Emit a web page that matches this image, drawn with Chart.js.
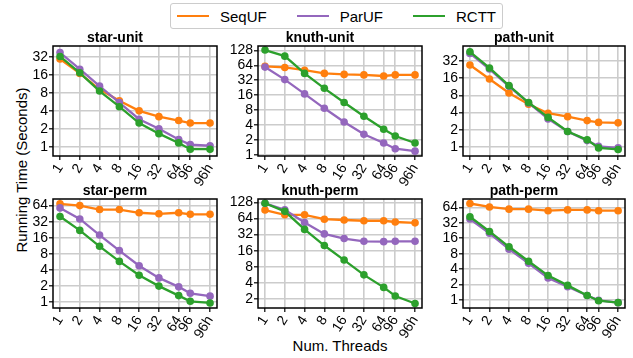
<!DOCTYPE html>
<html>
<head>
  <title>Running Time vs Threads</title>
  <script src="https://cdn.jsdelivr.net/npm/chart.js"></script>
  <style>
    body {
      margin: 0;
      background: #fff;
      font-family: "Liberation Sans", Arial, sans-serif;
      color: #000;
    }
    #wrap {
      position: relative;
      width: 633px;
      height: 358px;
      overflow: hidden;
    }
    canvas { position: absolute; }
    .legend {
      position: absolute;
      left: 170px;
      top: 3px;
      height: 24px;
      border: 1px solid #cccccc;
      border-radius: 3px;
      display: flex;
      align-items: center;
      padding: 0 6px;
      font-size: 15px;
      background: #fff;
    }
    .legend .item { display: flex; align-items: center; margin-right: 30px; }
    .legend .item:last-child { margin-right: 0; }
    .legend .swatch { width: 32px; height: 2px; margin-right: 11px; }
    #ylabel {
      position: absolute;
      left: 21px;
      top: 170px;
      transform: translate(-50%, -50%) rotate(-90deg);
      white-space: nowrap;
      font-size: 15px;
    }
    #xlabel {
      position: absolute;
      left: 340px;
      top: 345px;
      transform: translate(-50%, -50%);
      white-space: nowrap;
      font-size: 15px;
    }
  </style>
</head>
<body>
  <div id="wrap">
    <div class="legend" id="legend"></div>
    <div id="ylabel">Running Time (Seconds)</div>
    <div id="xlabel">Num. Threads</div>
  </div>

  <script>
    // x axis: thread counts, "96h" sits one doubling after 96
    const threadLabels = ['1', '2', '4', '8', '16', '32', '64', '96', '96h'];
    const threadCounts = [1, 2, 4, 8, 16, 32, 64, 96, 192];

    const seriesNames = ['SeqUF', 'ParUF', 'RCTT'];
    const seriesColors = ['#ff7f0e', '#9467bd', '#2ca02c'];

    const titles = ['star-unit', 'knuth-unit', 'path-unit', 'star-perm', 'knuth-perm', 'path-perm'];

    // running times (seconds)
    const starUnitSeq   = [29.6, 17, 9.2, 5.9, 4.0, 3.2, 2.75, 2.5, 2.5];
    const starUnitPar   = [38, 20, 10.4, 5.5, 2.9, 2.0, 1.32, 1.09, 1.04];
    const starUnitRctt  = [32.7, 17.4, 8.6, 4.7, 2.5, 1.66, 1.16, 0.91, 0.91];

    const knuthUnitSeq  = [61, 58, 51, 44, 42, 41, 39, 41, 41];
    const knuthUnitPar  = [59, 33, 17, 8.7, 4.6, 2.6, 1.74, 1.33, 1.19];
    const knuthUnitRctt = [130, 98, 44, 22, 11.4, 6.0, 3.3, 2.4, 1.74];

    const pathUnitSeq   = [27, 15.4, 8.8, 5.6, 3.9, 3.4, 2.9, 2.7, 2.65];
    const pathUnitPar   = [43, 23, 11.5, 5.9, 3.1, 1.87, 1.3, 1.03, 0.97];
    const pathUnitRctt  = [46, 24, 11.8, 6.0, 3.3, 1.87, 1.34, 0.97, 0.91];

    const starPermSeq   = [69, 64, 54, 54, 47, 45, 47, 44, 44];
    const starPermPar   = [58, 36, 18, 9.2, 4.8, 2.85, 1.94, 1.47, 1.3];
    const starPermRctt  = [40, 22, 11.1, 5.8, 3.2, 2.0, 1.33, 1.04, 0.97];

    const knuthPermSeq  = [92, 75, 75, 62, 60, 58, 58, 55, 53];
    const knuthPermPar  = [123, 93, 54, 33, 27, 24, 23.6, 24, 24];
    const knuthPermRctt = [123, 87, 40, 20, 10.7, 5.66, 3.3, 2.28, 1.65];

    const pathPermSeq   = [76, 65, 59, 59, 55, 57, 57, 55, 55];
    const pathPermPar   = [38, 20, 9.8, 5.2, 2.7, 1.82, 1.23, 0.99, 0.89];
    const pathPermRctt  = [42, 21.7, 10.9, 5.7, 3.0, 1.93, 1.23, 0.97, 0.89];

    // y ticks and limits per panel
    const yTicks = [
      [1, 2, 4, 8, 16, 32],
      [1, 2, 4, 8, 16, 32, 64, 128],
      [1, 2, 4, 8, 16, 32],
      [1, 2, 4, 8, 16, 32, 64],
      [2, 4, 8, 16, 32, 64, 128],
      [1, 2, 4, 8, 16, 32, 64]
    ];
    const yMin = [0.73, 0.95, 0.74, 0.78, 1.36, 0.71];
    const yMax = [49, 157, 58, 85, 148, 93];

    const panelData = [
      [starUnitSeq, starUnitPar, starUnitRctt],
      [knuthUnitSeq, knuthUnitPar, knuthUnitRctt],
      [pathUnitSeq, pathUnitPar, pathUnitRctt],
      [starPermSeq, starPermPar, starPermRctt],
      [knuthPermSeq, knuthPermPar, knuthPermRctt],
      [pathPermSeq, pathPermPar, pathPermRctt]
    ];

    // layout of the plot boxes
    const cols = [{ left: 53, w: 164 }, { left: 258, w: 164 }, { left: 463, w: 162 }];
    const rows = [{ top: 46, h: 110 }, { top: 199, h: 109 }];
    const Y_W = 40, TITLE_H = 16, X_H = 40, PAD_R = 10;
    const FONT = '"Liberation Sans", Arial, sans-serif';

    // legend
    const legend = document.getElementById('legend');
    seriesNames.forEach((name, k) => {
      legend.innerHTML += '<div class="item"><div class="swatch" style="background:' +
        seriesColors[k] + '"></div><span>' + name + '</span></div>';
    });

    // black box round each plot
    const frame = {
      id: 'frame',
      afterDraw(chart) {
        const a = chart.chartArea;
        const ctx = chart.ctx;
        ctx.save();
        ctx.strokeStyle = '#000';
        ctx.lineWidth = 1.5;
        ctx.strokeRect(a.left, a.top, a.right - a.left, a.bottom - a.top);
        ctx.restore();
      }
    };

    const wrap = document.getElementById('wrap');

    panelData.forEach((series, i) => {
      const col = cols[i % 3];
      const row = rows[Math.floor(i / 3)];
      const canvas = document.createElement('canvas');
      canvas.width = Y_W + col.w + PAD_R;
      canvas.height = TITLE_H + row.h + X_H;
      canvas.style.left = (col.left - Y_W) + 'px';
      canvas.style.top = (row.top - TITLE_H) + 'px';
      wrap.appendChild(canvas);

      new Chart(canvas, {
        type: 'line',
        data: {
          datasets: series.map((vals, k) => ({
            label: seriesNames[k],
            data: threadCounts.map((t, j) => ({ x: t, y: vals[j] })),
            borderColor: seriesColors[k],
            backgroundColor: seriesColors[k],
            borderWidth: 2.3,
            pointRadius: 3.8,
            pointBorderWidth: 0,
            pointHoverRadius: 3.8,
            order: 2 - k
          }))
        },
        options: {
          responsive: false,
          animation: false,
          events: [],
          layout: { padding: { left: 0, right: PAD_R, top: 0, bottom: 0 } },
          plugins: {
            legend: { display: false },
            tooltip: { enabled: false },
            title: {
              display: true,
              text: titles[i],
              color: '#000',
              padding: 0,
              font: { family: FONT, size: 14, weight: 'bold', lineHeight: '16px' }
            }
          },
          scales: {
            x: {
              type: 'logarithmic',
              min: 0.782,
              max: 245,
              afterBuildTicks: s => { s.ticks = threadCounts.map(v => ({ value: v })); },
              afterFit: s => { s.height = X_H; },
              ticks: {
                autoSkip: false,
                minRotation: 58,
                maxRotation: 58,
                padding: 1,
                color: '#000',
                font: { family: FONT, size: 14 },
                callback: (v, idx) => threadLabels[idx]
              },
              grid: { color: '#cccccc', lineWidth: 1.6, tickColor: '#000', tickLength: 4, tickWidth: 1.2 },
              border: { display: false }
            },
            y: {
              type: 'logarithmic',
              min: yMin[i],
              max: yMax[i],
              afterBuildTicks: s => { s.ticks = yTicks[i].map(v => ({ value: v })); },
              afterFit: s => { s.width = Y_W; },
              ticks: {
                autoSkip: false,
                padding: 1,
                color: '#000',
                font: { family: FONT, size: 14 },
                callback: v => String(v)
              },
              grid: { color: '#cccccc', lineWidth: 1.6, tickColor: '#000', tickLength: 4, tickWidth: 1.2 },
              border: { display: false }
            }
          }
        },
        plugins: [frame]
      });
    });
  </script>
</body>
</html>
